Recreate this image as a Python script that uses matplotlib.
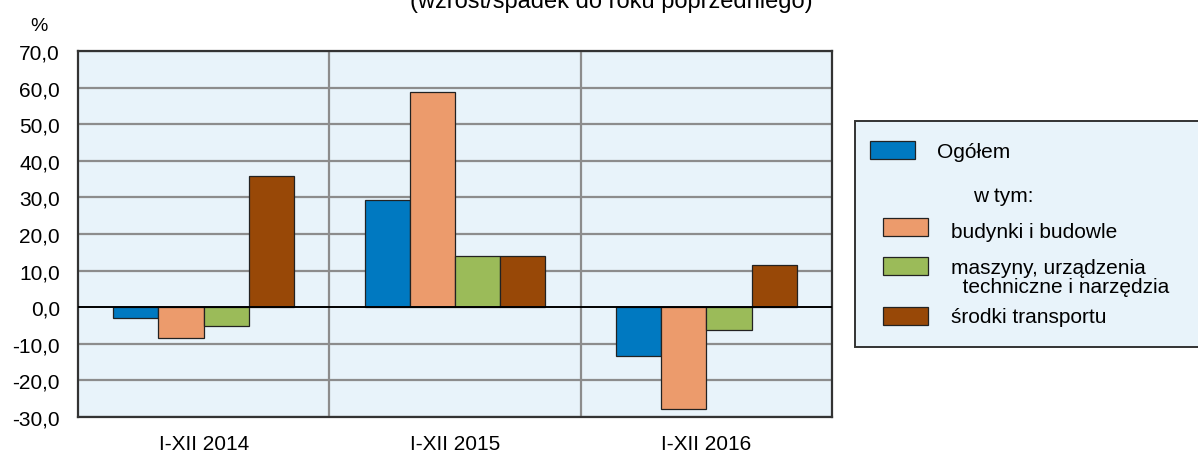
#!/usr/bin/env python3
import numpy as np
import matplotlib
matplotlib.use('Agg')
import matplotlib.pyplot as plt
from matplotlib.patches import Rectangle

plt.rcParams['font.family'] = ['Liberation Sans', 'DejaVu Sans']

#-----------------------------------------------------------------------------------------
# data
categories = ['I-XII 2014', 'I-XII 2015', 'I-XII 2016']
series_names = ['Ogółem', 'budynki i budowle',
                'maszyny, urządzenia\n  techniczne i narzędzia', 'środki transportu']
ogolem    = [-3.0, 29.4, -13.4]
budynki   = [-8.4, 58.7, -27.7]
maszyny   = [-5.2, 14.0, -6.1]
transport = [35.9, 14.0, 11.5]
colors = ['#0079C1', '#EC9B6C', '#9BBB59', '#984807']
yticks = np.arange(-30, 71, 10)

W, H = 1198, 452
fig = plt.figure(figsize=(W/100, H/100), dpi=100)

# axes placed in pixel coords
x0, x1, y0, y1 = 78, 832, 52, 418
ax = fig.add_axes([x0/W, 1-y1/H, (x1-x0)/W, (y1-y0)/H])
ax.set_facecolor('#E8F3FA')

xs = np.arange(len(categories))
bw = 0.18
allvals = [ogolem, budynki, maszyny, transport]
for i, vals in enumerate(allvals):
    ax.bar(xs + (i-1.5)*bw, vals, bw, color=colors[i], edgecolor='#222222',
           linewidth=0.9, zorder=3)

ax.set_xlim(-0.5, 2.5)
ax.set_ylim(-30, 70)
ax.set_yticks(yticks)
ax.yaxis.set_major_formatter(plt.FuncFormatter(lambda v, p: ('%.1f' % v).replace('.', ',')))
ax.set_xticks(xs)
ax.set_xticklabels(categories)
ax.tick_params(length=0, labelsize=15, colors='black')
ax.tick_params(axis='y', pad=13)
ax.tick_params(axis='x', pad=12)

for v in yticks:
    if v != 0:
        ax.axhline(v, color='#8c8c8c', lw=1.6, zorder=1)
for v in [0.5, 1.5]:
    ax.axvline(v, color='#8c8c8c', lw=1.6, zorder=1)
ax.axhline(0, color='black', lw=1.4, zorder=4)
for s in ax.spines.values():
    s.set_color('#333333')
    s.set_linewidth(1.6)

# overlay in pixel coordinates for texts and legend
ov = fig.add_axes([0, 0, 1, 1])
ov.set_xlim(0, W)
ov.set_ylim(H, 0)
ov.axis('off')
ov.patch.set_alpha(0)

ov.text(611, 8, '(wzrost/spadek do roku poprzedniego)', ha='center', va='baseline',
        fontsize=17)
ov.text(39, 31, '%', ha='center', va='baseline', fontsize=14)

# legend box
ov.add_patch(Rectangle((855, 122), 400, 226, facecolor='#E8F3FA',
                       edgecolor='#333333', lw=1.4))
sw_w, sw_h = 45, 18
ov.add_patch(Rectangle((870, 142), sw_w, sw_h, facecolor=colors[0],
                       edgecolor='#222222', lw=0.9))
ov.text(937, 153, series_names[0], va='center', fontsize=15)
ov.text(973, 197, 'w tym:', va='center', fontsize=15)
sw_y = [219, 258, 308]
txt_y = [233, 278, 318]
for i in range(1, 4):
    ov.add_patch(Rectangle((883, sw_y[i-1]), sw_w, sw_h, facecolor=colors[i],
                           edgecolor='#222222', lw=0.9))
    ov.text(951, txt_y[i-1], series_names[i], va='center', fontsize=15,
            linespacing=1.0)

fig.savefig('out.png', dpi=100)
